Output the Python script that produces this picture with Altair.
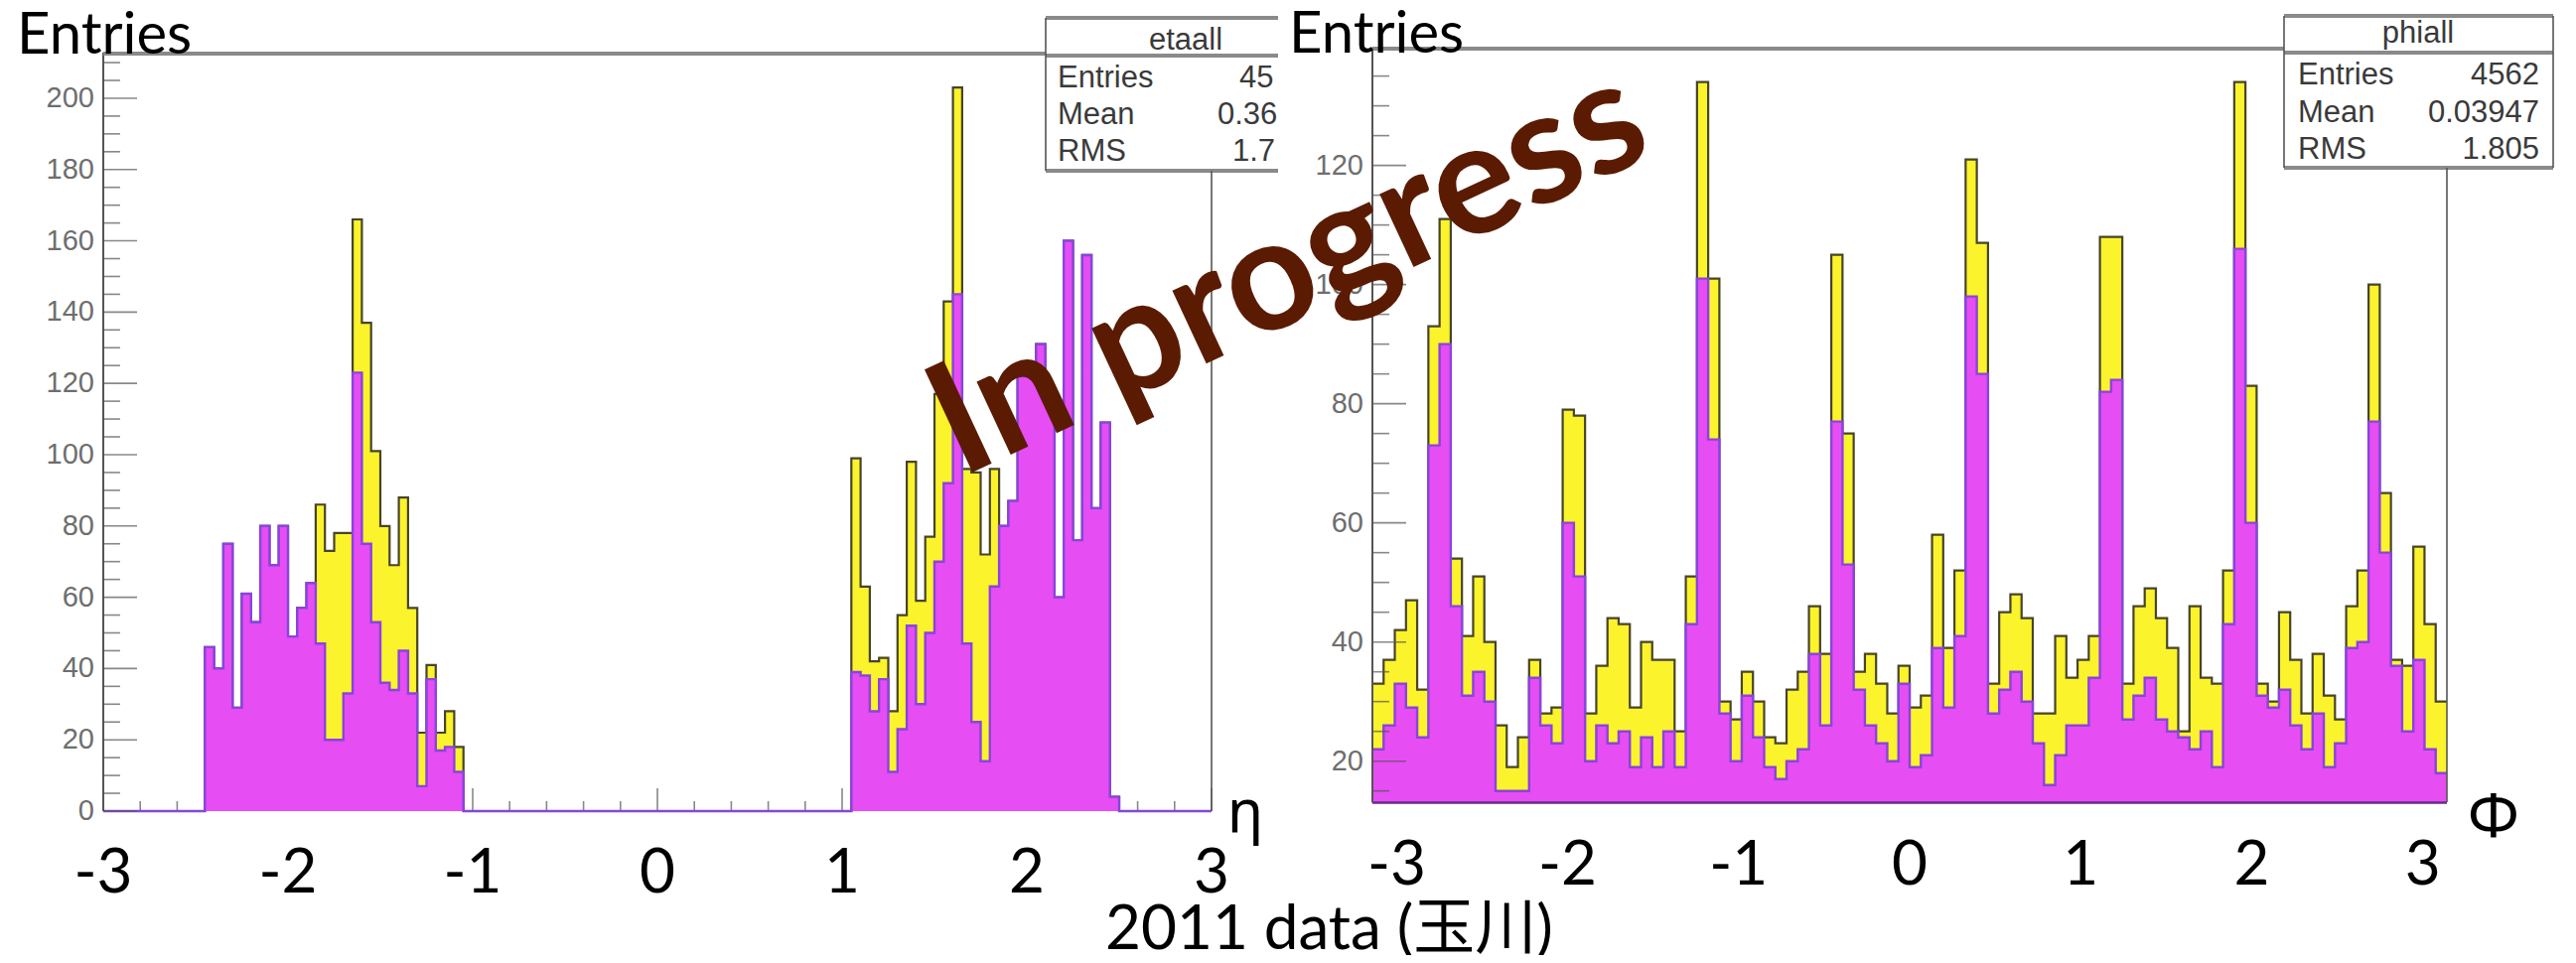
import math
import altair as alt
import pandas as pd

# ---------------- values ----------------
# eta histogram: 120 bins of width 0.05 on [-3, 3]; bins outside the two stretches are empty
eta_lo, eta_hi, eta_nbins = -3.0, 3.0, 120
eta_left_first = 11          # first filled bin on the negative side (eta = -2.45)
eta_left_purple = [46, 40, 75, 29, 61, 53, 80, 69, 80, 49, 57, 64, 47, 20, 20, 33, 123, 75, 53, 36,
                   34, 45, 33, 7, 37, 17, 18, 11]
eta_left_yellow = [46, 40, 75, 29, 61, 53, 80, 69, 80, 49, 57, 64, 86, 73, 78, 78, 166, 137, 101, 80,
                   69, 88, 57, 22, 41, 22, 28, 18]
eta_right_first = 81         # first filled bin on the positive side (eta = 1.05)
eta_right_purple = [39, 38, 28, 37, 11, 23, 52, 30, 50, 70, 92, 145, 47, 25, 14, 63, 80, 87, 122, 123,
                    131, 114, 60, 160, 76, 156, 85, 109, 4]
eta_right_yellow = [99, 63, 42, 43, 28, 55, 98, 59, 77, 117, 143, 203, 96, 95, 72, 96, 80, 87, 122, 123,
                    131, 114, 60, 160, 76, 156, 85, 109, 4]

# phi histogram: 96 bins on [-pi, pi]
phi_nbins = 96
phi_purple = [22, 26, 33, 29, 24, 73, 90, 46, 31, 35, 30, 15, 15, 15, 34, 26, 23, 60, 51, 20,
              26, 23, 25, 19, 24, 19, 25, 19, 43, 101, 74, 28, 20, 31, 24, 19, 17, 20, 22, 38,
              26, 77, 53, 32, 26, 23, 20, 33, 19, 21, 39, 29, 41, 98, 85, 28, 32, 35, 30, 23,
              16, 21, 26, 26, 34, 82, 84, 27, 31, 34, 27, 25, 24, 22, 25, 19, 43, 106, 60, 31,
              29, 32, 26, 22, 28, 19, 23, 39, 40, 77, 55, 36, 25, 37, 22, 18]
phi_yellow = [33, 37, 42, 47, 32, 93, 111, 54, 41, 51, 40, 26, 19, 24, 37, 28, 29, 79, 78, 28,
              36, 44, 43, 29, 40, 37, 37, 25, 51, 134, 101, 30, 27, 35, 30, 24, 23, 32, 35, 46,
              38, 105, 75, 35, 38, 33, 28, 36, 29, 31, 58, 39, 52, 121, 107, 33, 45, 48, 44, 28,
              28, 41, 34, 37, 41, 108, 108, 33, 46, 49, 44, 39, 25, 46, 34, 33, 52, 134, 83, 33,
              30, 45, 37, 28, 38, 31, 27, 46, 52, 100, 65, 37, 36, 56, 43, 30]

eta_stats = [("Entries", "45"), ("Mean", "0.36"), ("RMS", "1.7")]
phi_stats = [("Entries", "4562"), ("Mean", "0.03947"), ("RMS", "1.805")]

# axis ticks / labels
eta_x_labels = [-3, -2, -1, 0, 1, 2, 3]
eta_x_label_text = ["-3", "-2", "-1", "0", "1", "2", "3"]
eta_x_minor = [round(-3 + 0.2 * i, 1) for i in range(31) if i % 5 != 0]
eta_y_major = list(range(0, 201, 20))
eta_y_minor = [v for v in range(0, 211, 5) if v % 20]
phi_x_labels = [-3, -2, -1, 0, 1, 2, 3]
phi_x_label_text = ["-3", "-2", "-1", "0", "1", "2", "3"]
phi_y_major = list(range(20, 121, 20))
phi_y_minor = [v for v in range(15, 140, 5) if v % 20]

# ---------------- layout (page pixels -> plot-area pixels) ----------------
W, H = 2578, 954


def P(v):
    return v - 8


ETA_YMAX = 212.8
PHI_YMIN, PHI_YMAX = 13.05, 139.6

EX = alt.Scale(domain=[eta_lo, eta_hi], range=[P(104), P(1220)], nice=False, zero=False)
EY = alt.Scale(domain=[0, ETA_YMAX], range=[P(817), P(53)], nice=False, zero=False)
FX = alt.Scale(domain=[-math.pi, math.pi], range=[P(1382), P(2464)], nice=False, zero=False)
FY = alt.Scale(domain=[PHI_YMIN, PHI_YMAX], range=[P(808.4), P(49)], nice=False, zero=False)

YELLOW = "#fbf32b"
PURPLE = "#e64df3"
YEL_LINE = "#47442a"
PUR_LINE = "#8745dd"
TICK = "#555555"

# ---------------- tables ----------------
eta_w = (eta_hi - eta_lo) / eta_nbins
eta_p = [0] * eta_nbins
eta_y = [0] * eta_nbins
for i, v in enumerate(eta_left_purple):
    eta_p[eta_left_first + i] = v
for i, v in enumerate(eta_left_yellow):
    eta_y[eta_left_first + i] = v
for i, v in enumerate(eta_right_purple):
    eta_p[eta_right_first + i] = v
for i, v in enumerate(eta_right_yellow):
    eta_y[eta_right_first + i] = v
eta_df = pd.DataFrame({
    "x": [eta_lo + i * eta_w for i in range(eta_nbins)] + [eta_hi],
    "purple": eta_p + [eta_p[-1]],
    "yellow": eta_y + [eta_y[-1]],
    "base": 0.0,
})

phi_w = 2 * math.pi / phi_nbins
phi_df = pd.DataFrame({
    "x": [-math.pi + i * phi_w for i in range(phi_nbins)] + [math.pi],
    "purple": phi_purple + [phi_purple[-1]],
    "yellow": phi_yellow + [phi_yellow[-1]],
    "base": PHI_YMIN,
})


def hist_layers(df, xs, ys):
    ya = alt.Chart(df).mark_area(interpolate="step-after", color=YELLOW).encode(
        x=alt.X("x:Q", scale=xs, axis=None), y=alt.Y("yellow:Q", scale=ys, axis=None), y2="base:Q")
    yl = alt.Chart(df).mark_line(interpolate="step-after", color=YEL_LINE, strokeWidth=2.2).encode(
        x=alt.X("x:Q", scale=xs, axis=None), y=alt.Y("yellow:Q", scale=ys, axis=None))
    pa = alt.Chart(df).mark_area(interpolate="step-after", color=PURPLE).encode(
        x=alt.X("x:Q", scale=xs, axis=None), y=alt.Y("purple:Q", scale=ys, axis=None), y2="base:Q")
    pl = alt.Chart(df).mark_line(interpolate="step-after", color=PUR_LINE, strokeWidth=2.4).encode(
        x=alt.X("x:Q", scale=xs, axis=None), y=alt.Y("purple:Q", scale=ys, axis=None))
    return [ya, yl, pa, pl]


def ytick_layers(major, minor, xs, ys, xanchor):
    out = []
    for vals, size in ((major, 34), (minor, 17)):
        out.append(alt.Chart(pd.DataFrame({"t": vals})).mark_tick(
            orient="horizontal", size=size, thickness=1.6, xOffset=size / 2, color=TICK).encode(
            y=alt.Y("t:Q", scale=ys, axis=None), x=alt.XDatum(xanchor, axis=None)))
    return out


def ylabels(values, xs, ys, xanchor):
    df = pd.DataFrame({"t": values, "lab": [str(v) for v in values]})
    return alt.Chart(df).mark_text(align="right", baseline="middle", dx=-9, font="Liberation Sans",
                                   fontSize=29, color="#6e6e6e").encode(
        y=alt.Y("t:Q", scale=ys, axis=None), x=alt.XDatum(xanchor, axis=None), text="lab:N")


def xlabels(values, texts_, xs, ys, yanchor, dy):
    df = pd.DataFrame({"t": values, "lab": texts_})
    return alt.Chart(df).mark_text(align="center", baseline="alphabetic", dy=dy, font="Lato",
                                   fontSize=62, color="black").encode(
        x=alt.X("t:Q", scale=xs, axis=None), y=alt.YDatum(yanchor, axis=None), text="lab:N")


def yline(xs, ys, xanchor, y0, y1):
    return alt.Chart(pd.DataFrame({"a": [0]})).mark_rule(color="#555555", strokeWidth=2).encode(
        x=alt.XDatum(xanchor, axis=None), y=alt.YDatum(y0, axis=None), y2=alt.Y2Datum(y1))


# eta panel
eta_xt = []
for vals, size in ((eta_x_minor, 10), (eta_x_labels, 23)):
    eta_xt.append(alt.Chart(pd.DataFrame({"t": vals})).mark_tick(
        orient="vertical", size=size, thickness=1.6, yOffset=-size / 2, color=TICK).encode(
        x=alt.X("t:Q", scale=EX, axis=None), y=alt.YDatum(0, axis=None)))
eta_panel = alt.layer(
    *eta_xt,
    *hist_layers(eta_df, EX, EY),
    yline(EX, EY, eta_lo, 0, ETA_YMAX),
    *ytick_layers(eta_y_major, eta_y_minor, EX, EY, eta_lo),
    ylabels(eta_y_major, EX, EY, eta_lo),
    xlabels(eta_x_labels, eta_x_label_text, EX, EY, 0, 82),
)

# phi panel
phi_bottom = alt.Chart(pd.DataFrame({"a": [0]})).mark_rule(color="#6b2a8a", strokeWidth=2.5).encode(
    x=alt.XDatum(-math.pi, axis=None), x2=alt.X2Datum(math.pi), y=alt.YDatum(PHI_YMIN, axis=None))
phi_panel = alt.layer(
    *hist_layers(phi_df, FX, FY),
    phi_bottom,
    yline(FX, FY, -math.pi, PHI_YMIN, PHI_YMAX),
    *ytick_layers(phi_y_major, phi_y_minor, FX, FY, -math.pi),
    ylabels(phi_y_major, FX, FY, -math.pi),
    xlabels(phi_x_labels, phi_x_label_text, FX, FY, PHI_YMIN, 83),
)


# ---------------- annotations (pixel positioned) ----------------
def rules(rows, color, width):
    df = pd.DataFrame(rows, columns=["x", "x2", "y", "y2"])
    for c in df.columns:
        df[c] = df[c].map(P)
    return alt.Chart(df).mark_rule(color=color, strokeWidth=width).encode(
        x=alt.X("x:Q", scale=None, axis=None), x2="x2:Q",
        y=alt.Y("y:Q", scale=None, axis=None), y2="y2:Q")


def texts(rows, **kw):
    df = pd.DataFrame(rows, columns=["x", "y", "t"])
    df["x"] = df["x"].map(P)
    df["y"] = df["y"].map(P)
    return alt.Chart(df).mark_text(**kw).encode(
        x=alt.X("x:Q", scale=None, axis=None), y=alt.Y("y:Q", scale=None, axis=None), text="t:N")


thick_gray = rules([
    (104, 1053, 54, 54),      # eta frame top
    (1382, 2300, 49, 49),     # phi frame top
    (1053, 1287, 18, 18), (1053, 1287, 56, 56), (1053, 1287, 172, 172),   # eta stats box
    (2300, 2571, 16, 16), (2300, 2571, 53, 53), (2300, 2571, 169, 169),   # phi stats box
], "#8a8a8a", 4)
thin_dark = rules([
    (1220, 1220, 172, 817),   # eta frame right
    (2464, 2464, 169, 808),   # phi frame right
    (1053, 1053, 18, 172),
    (2300, 2300, 16, 169), (2571, 2571, 16, 169),
], "#555555", 1.6)

stat_font = dict(font="Liberation Sans", fontSize=31, color="#3a3a3a", baseline="alphabetic")
box_titles = texts([(1194, 50, "etaall"), (2435, 43, "phiall")], align="center", **stat_font)
box_names = texts([(1065, 88 + 37 * i, n) for i, (n, _) in enumerate(eta_stats)]
                  + [(2314, 85 + 37.5 * i, n) for i, (n, _) in enumerate(phi_stats)],
                  align="left", **stat_font)
eta_vals = texts([(1248, 88, eta_stats[0][1]), (1226, 125, eta_stats[1][1]), (1241, 162, eta_stats[2][1])],
                 align="left", **stat_font)
phi_vals = texts([(2557, 85 + 37.5 * i, v) for i, (_, v) in enumerate(phi_stats)], align="right", **stat_font)

entries = texts([(17, 54, "Entries"), (1298, 53, "Entries")], align="left", baseline="alphabetic",
                font="Lato", fontSize=58, color="black")
eta_sym = texts([(1254, 838, "η")], align="center", baseline="alphabetic",
                font="Noto Sans", fontSize=60, color="black")
phi_sym = texts([(2511, 843, "Φ")], align="center", baseline="alphabetic",
                font="Noto Sans", fontSize=62, color="black")
caption = texts([(1113, 956, "2011 data (玉川)")], align="left", baseline="alphabetic",
                font="Lato, Noto Sans CJK JP", fontSize=62, color="black")
stamp = texts([(1318, 318, "In progress")], align="center", baseline="alphabetic", angle=335,
              font="Lato", fontSize=158, fontWeight="bold", color="#5a1b02")

chart = alt.layer(
    eta_panel, phi_panel,
    thick_gray, thin_dark,
    box_titles, box_names, eta_vals, phi_vals,
    entries, eta_sym, phi_sym, caption, stamp,
).resolve_scale(x="independent", y="independent").properties(
    width=W, height=H, autosize=alt.AutoSizeParams(type="none"), padding=0,
    background="white",
).configure_view(stroke=None)

chart.save("out.html", embed_options={"renderer": "svg", "actions": False})
